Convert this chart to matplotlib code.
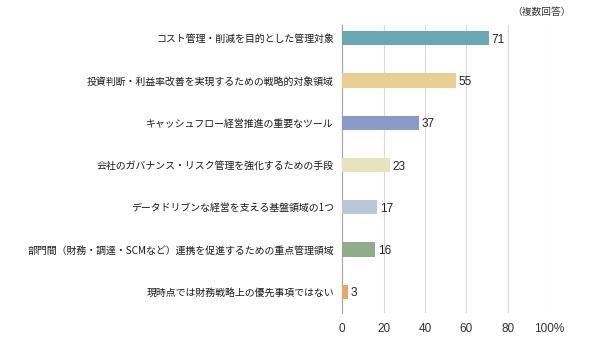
import matplotlib
matplotlib.use('Agg')
import matplotlib.pyplot as plt

plt.rcParams['font.family'] = ['Noto Sans CJK JP', 'DejaVu Sans']

categories = [
    'コスト管理・削減を目的とした管理対象',
    '投資判断・利益率改善を実現するための戦略的対象領域',
    'キャッシュフロー経営推進の重要なツール',
    '会社のガバナンス・リスク管理を強化するための手段',
    'データドリブンな経営を支える基盤領域の1つ',
    '部門間（財務・調達・SCMなど）連携を促進するための重点管理領域',
    '現時点では財務戦略上の優先事項ではない',
]
values = [71, 55, 37, 23, 17, 16, 3]
colors = ['#69a8b0', '#e9cf93', '#8b9bc9', '#e7e3bf', '#bcc6d9', '#8fad8b', '#e1a96b']
tick_vals = [0, 20, 40, 60, 80, 100]
tick_labels = ['0', '20', '40', '60', '80', '100%']

fig = plt.figure(figsize=(5.9, 3.54), dpi=100)
ax = fig.add_axes([0.58, 0.116, 0.351, 0.813])

ypos = list(range(len(categories)))
ax.barh(ypos, values, height=0.34, color=colors, zorder=3)
for y, v in zip(ypos, values):
    ax.text(v + 1.2, y + 0.04, str(v), va='center', ha='left', fontsize=8.5,
            color='#222222', family=['Liberation Sans'])

ax.set_xlim(0, 100)
ax.set_ylim(6.5, -0.31)
ax.set_yticks(ypos)
ax.set_yticklabels(categories, fontsize=7.15, color='#1a1a1a')
ax.set_xticks(tick_vals)
ax.set_xticklabels(tick_labels, fontsize=8.5, color='#333333', family=['Liberation Sans'])
ax.tick_params(axis='both', length=0)
ax.tick_params(axis='y', pad=6)
ax.tick_params(axis='x', pad=7)

for x in tick_vals[1:]:
    ax.axvline(x, color='#d9d9d9' if x < 100 else '#c8c8c8', lw=0.8, zorder=1)
for s in ['top', 'right', 'bottom']:
    ax.spines[s].set_visible(False)
ax.spines['left'].set_color('#aaaaaa')
ax.spines['left'].set_linewidth(0.9)

fig.text(0.968, 0.965, '（複数回答）', ha='right', va='center', fontsize=7, color='#333333')

fig.savefig('out.png', dpi=100)
